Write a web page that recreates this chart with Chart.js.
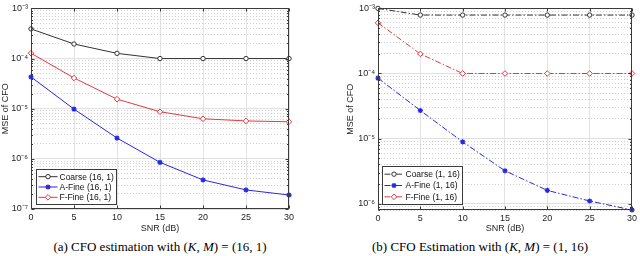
<!DOCTYPE html>
<html>
<head>
<meta charset="utf-8">
<script src="https://cdn.jsdelivr.net/npm/chart.js@4.4.0/dist/chart.umd.min.js"></script>
<style>
body { margin: 0; background: #fff; width: 640px; height: 256px; overflow: hidden; }
.panel { position: absolute; top: 0; width: 320px; height: 256px; }
.panel canvas { position: absolute; left: 0; top: 0; }
.cap { position: absolute; top: 239px; left: 0; width: 320px; text-align: center;
       font: 13px "Liberation Serif", serif; color: #000; white-space: nowrap; }
</style>
</head>
<body>
<div class="panel" style="left:0">
  <canvas id="chartA" width="320" height="236"></canvas>
  <div class="cap">(a) CFO estimation with (<i>K</i>, <i>M</i>) = (16, 1)</div>
</div>
<div class="panel" style="left:320px">
  <canvas id="chartB" width="320" height="236"></canvas>
  <div class="cap">(b) CFO Estimation with (<i>K</i>, <i>M</i>) = (1, 16)</div>
</div>
<script>
// SNR (dB) on the x axis
const snr = [0, 5, 10, 15, 20, 25, 30];

// (a) K=16, M=1
const namesA = ['Coarse (16, 1)', 'A-Fine (16, 1)', 'F-Fine (16, 1)'];
const coarseA = [3.9e-4, 1.95e-4, 1.27e-4, 1.0e-4, 1.0e-4, 1.0e-4, 1.0e-4];
const aFineA = [4.3e-5, 9.8e-6, 2.6e-6, 8.5e-7, 3.8e-7, 2.4e-7, 1.9e-7];
const fFineA = [1.28e-4, 4.1e-5, 1.55e-5, 8.7e-6, 6.3e-6, 5.7e-6, 5.5e-6];

// (b) K=1, M=16
const namesB = ['Coarse (1, 16)', 'A-Fine (1, 16)', 'F-Fine (1, 16)'];
const coarseB = [1.0e-3, 7.9e-4, 7.9e-4, 7.9e-4, 7.9e-4, 7.9e-4, 7.9e-4];
const aFineB = [8.5e-5, 2.7e-5, 8.9e-6, 3.2e-6, 1.6e-6, 1.1e-6, 8.0e-7];
const fFineB = [6.0e-4, 2.0e-4, 1.0e-4, 1.0e-4, 1.0e-4, 1.0e-4, 1.0e-4];

// y tick labels (decades)
const decades = [-7, -6, -5, -4, -3];
const decadeLabels = ['10\u207B\u2077', '10\u207B\u2076', '10\u207B\u2075', '10\u207B\u2074', '10\u207B\u00B3'];

const FONT = '"Liberation Sans", Arial, sans-serif';

function isDecade(v) {
  const l = Math.log10(v);
  return Math.abs(l - Math.round(l)) < 1e-6;
}

// box + inner tick marks, like matlab
const frame = {
  id: 'frame',
  afterDatasetsDraw(chart) {
    const { ctx, chartArea: a, scales } = chart;
    const l = Math.round(a.left) + 0.5, t = Math.round(a.top) + 0.5;
    const r = Math.round(a.right) - 0.5, b = Math.round(a.bottom) - 0.5;
    ctx.save();
    ctx.strokeStyle = '#3a3a3a';
    ctx.lineWidth = 1;
    ctx.beginPath();
    scales.x.ticks.forEach(tk => {
      const x = Math.round(scales.x.getPixelForValue(tk.value)) + 0.5;
      ctx.moveTo(x, b); ctx.lineTo(x, b - 3);
      ctx.moveTo(x, t); ctx.lineTo(x, t + 3);
    });
    scales.y.ticks.forEach(tk => {
      const y = Math.round(scales.y.getPixelForValue(tk.value)) + 0.5;
      const len = isDecade(tk.value) ? 3 : 1.5;
      ctx.moveTo(l, y); ctx.lineTo(l + len, y);
      ctx.moveTo(r, y); ctx.lineTo(r - len, y);
    });
    ctx.stroke();
    ctx.strokeRect(l, t, r - l, b - t);
    ctx.restore();
  }
};

// legend box in the lower left corner with line + marker samples
const boxLegend = {
  id: 'boxLegend',
  afterDraw(chart, args, opts) {
    const { ctx, chartArea: a } = chart;
    const x0 = Math.round(a.left + opts.dx) + 0.5;
    const y0 = Math.round(a.bottom - opts.gap - opts.h) + 0.5;
    ctx.save();
    ctx.fillStyle = '#fff';
    ctx.fillRect(x0, y0, opts.w, opts.h);
    ctx.strokeStyle = '#3a3a3a';
    ctx.lineWidth = 1;
    ctx.strokeRect(x0, y0, opts.w, opts.h);
    const n = chart.data.datasets.length;
    const rowH = (opts.h - 4) / n;
    chart.data.datasets.forEach((ds, i) => {
      const y = y0 + 2 + rowH * (i + 0.5);
      ctx.strokeStyle = ds.borderColor;
      ctx.lineWidth = ds.borderWidth;
      ctx.setLineDash(ds.borderDash || []);
      ctx.beginPath();
      ctx.moveTo(x0 + 2, y); ctx.lineTo(x0 + 21, y);
      ctx.stroke();
      ctx.setLineDash([]);
      ctx.fillStyle = ds.pointBackgroundColor;
      ctx.strokeStyle = ds.pointBorderColor;
      ctx.lineWidth = ds.pointBorderWidth;
      Chart.helpers.drawPoint(ctx, {
        pointStyle: ds.pointStyle, radius: ds.pointRadius,
        borderWidth: ds.pointBorderWidth, rotation: 0
      }, x0 + 11.5, y);
      ctx.fillStyle = '#111';
      ctx.font = '8.5px ' + FONT;
      ctx.textBaseline = 'middle';
      ctx.fillText(ds.label, x0 + 23, y + 0.5);
    });
    ctx.restore();
  }
};

function series(label, data, color, style, radius, dash) {
  return {
    label, data,
    borderColor: color, borderWidth: 1, borderDash: dash,
    pointStyle: style, pointRadius: radius, pointHoverRadius: radius,
    pointBorderColor: color, pointBackgroundColor: style === 'star' ? color : '#fff',
    pointBorderWidth: style === 'star' ? 1.3 : 1,
    tension: 0, clip: 4
  };
}

function makeChart(id, names, values, yMin, yMax, dash, layout, legendBox) {
  const colors = ['#333333', '#2828e0', '#e8383c'];
  const styles = ['circle', 'star', 'rectRot'];
  const radii = [2.2, 2.6, 2.8];
  return new Chart(document.getElementById(id), {
    type: 'line',
    data: {
      labels: snr,
      datasets: names.map((n, i) => series(n, values[i], colors[i], styles[i], radii[i], dash))
    },
    options: {
      responsive: false,
      animation: false,
      layout: { padding: { left: layout.padLeft, right: layout.padRight, top: 6, bottom: 0 } },
      plugins: {
        legend: { display: false },
        tooltip: { enabled: false },
        boxLegend: legendBox
      },
      scales: {
        x: {
          type: 'linear', min: 0, max: 30,
          afterFit: s => { s.height = layout.xHeight; },
          ticks: { stepSize: 5, padding: 3, color: '#262626', font: { family: FONT, size: 9 } },
          grid: { color: '#e3e3e3', lineWidth: 1, drawTicks: false },
          border: { display: false },
          title: { display: true, text: 'SNR (dB)', color: '#262626',
                   font: { family: FONT, size: 9 }, padding: { top: 0, bottom: 2 } }
        },
        y: {
          type: 'logarithmic', min: yMin, max: yMax,
          afterFit: s => { s.width = layout.yWidth; },
          afterBuildTicks: s => {
            const ticks = [];
            for (let e = Math.floor(Math.log10(yMin)); e <= Math.ceil(Math.log10(yMax)); e++) {
              for (let m = 1; m < 10; m++) {
                const v = m * Math.pow(10, e);
                if (v >= yMin * 0.999 && v <= yMax * 1.001) ticks.push({ value: v });
              }
            }
            s.ticks = ticks;
          },
          ticks: {
            autoSkip: false, padding: 3, color: '#262626', font: { family: FONT, size: 9 },
            callback: v => {
              const k = decades.indexOf(Math.round(Math.log10(v)));
              return isDecade(v) && k >= 0 ? decadeLabels[k] : '';
            }
          },
          grid: {
            drawTicks: false, lineWidth: 1,
            color: c => (c.tick && isDecade(c.tick.value)) ? '#e0e0e0' : '#cfcfcf'
          },
          border: {
            display: false,
            dash: c => (c.tick && !isDecade(c.tick.value)) ? [1, 2] : []
          },
          title: { display: true, text: 'MSE of CFO', color: '#262626',
                   font: { family: FONT, size: 9 }, padding: { top: 0, bottom: 0 } }
        }
      }
    },
    plugins: [frame, boxLegend]
  });
}

makeChart('chartA', namesA, [coarseA, aFineA, fFineA], 1e-7, 1e-3, [],
  { padLeft: 0, padRight: 31, yWidth: 31, xHeight: 27 },
  { dx: 5, gap: 5, w: 80, h: 35 });

makeChart('chartB', namesB, [coarseB, aFineB, fFineB], 8e-7, 1e-3, [6, 2, 1.5, 2],
  { padLeft: 25, padRight: 6, yWidth: 33, xHeight: 26 },
  { dx: 4, gap: 6, w: 80, h: 38 });
</script>
</body>
</html>
